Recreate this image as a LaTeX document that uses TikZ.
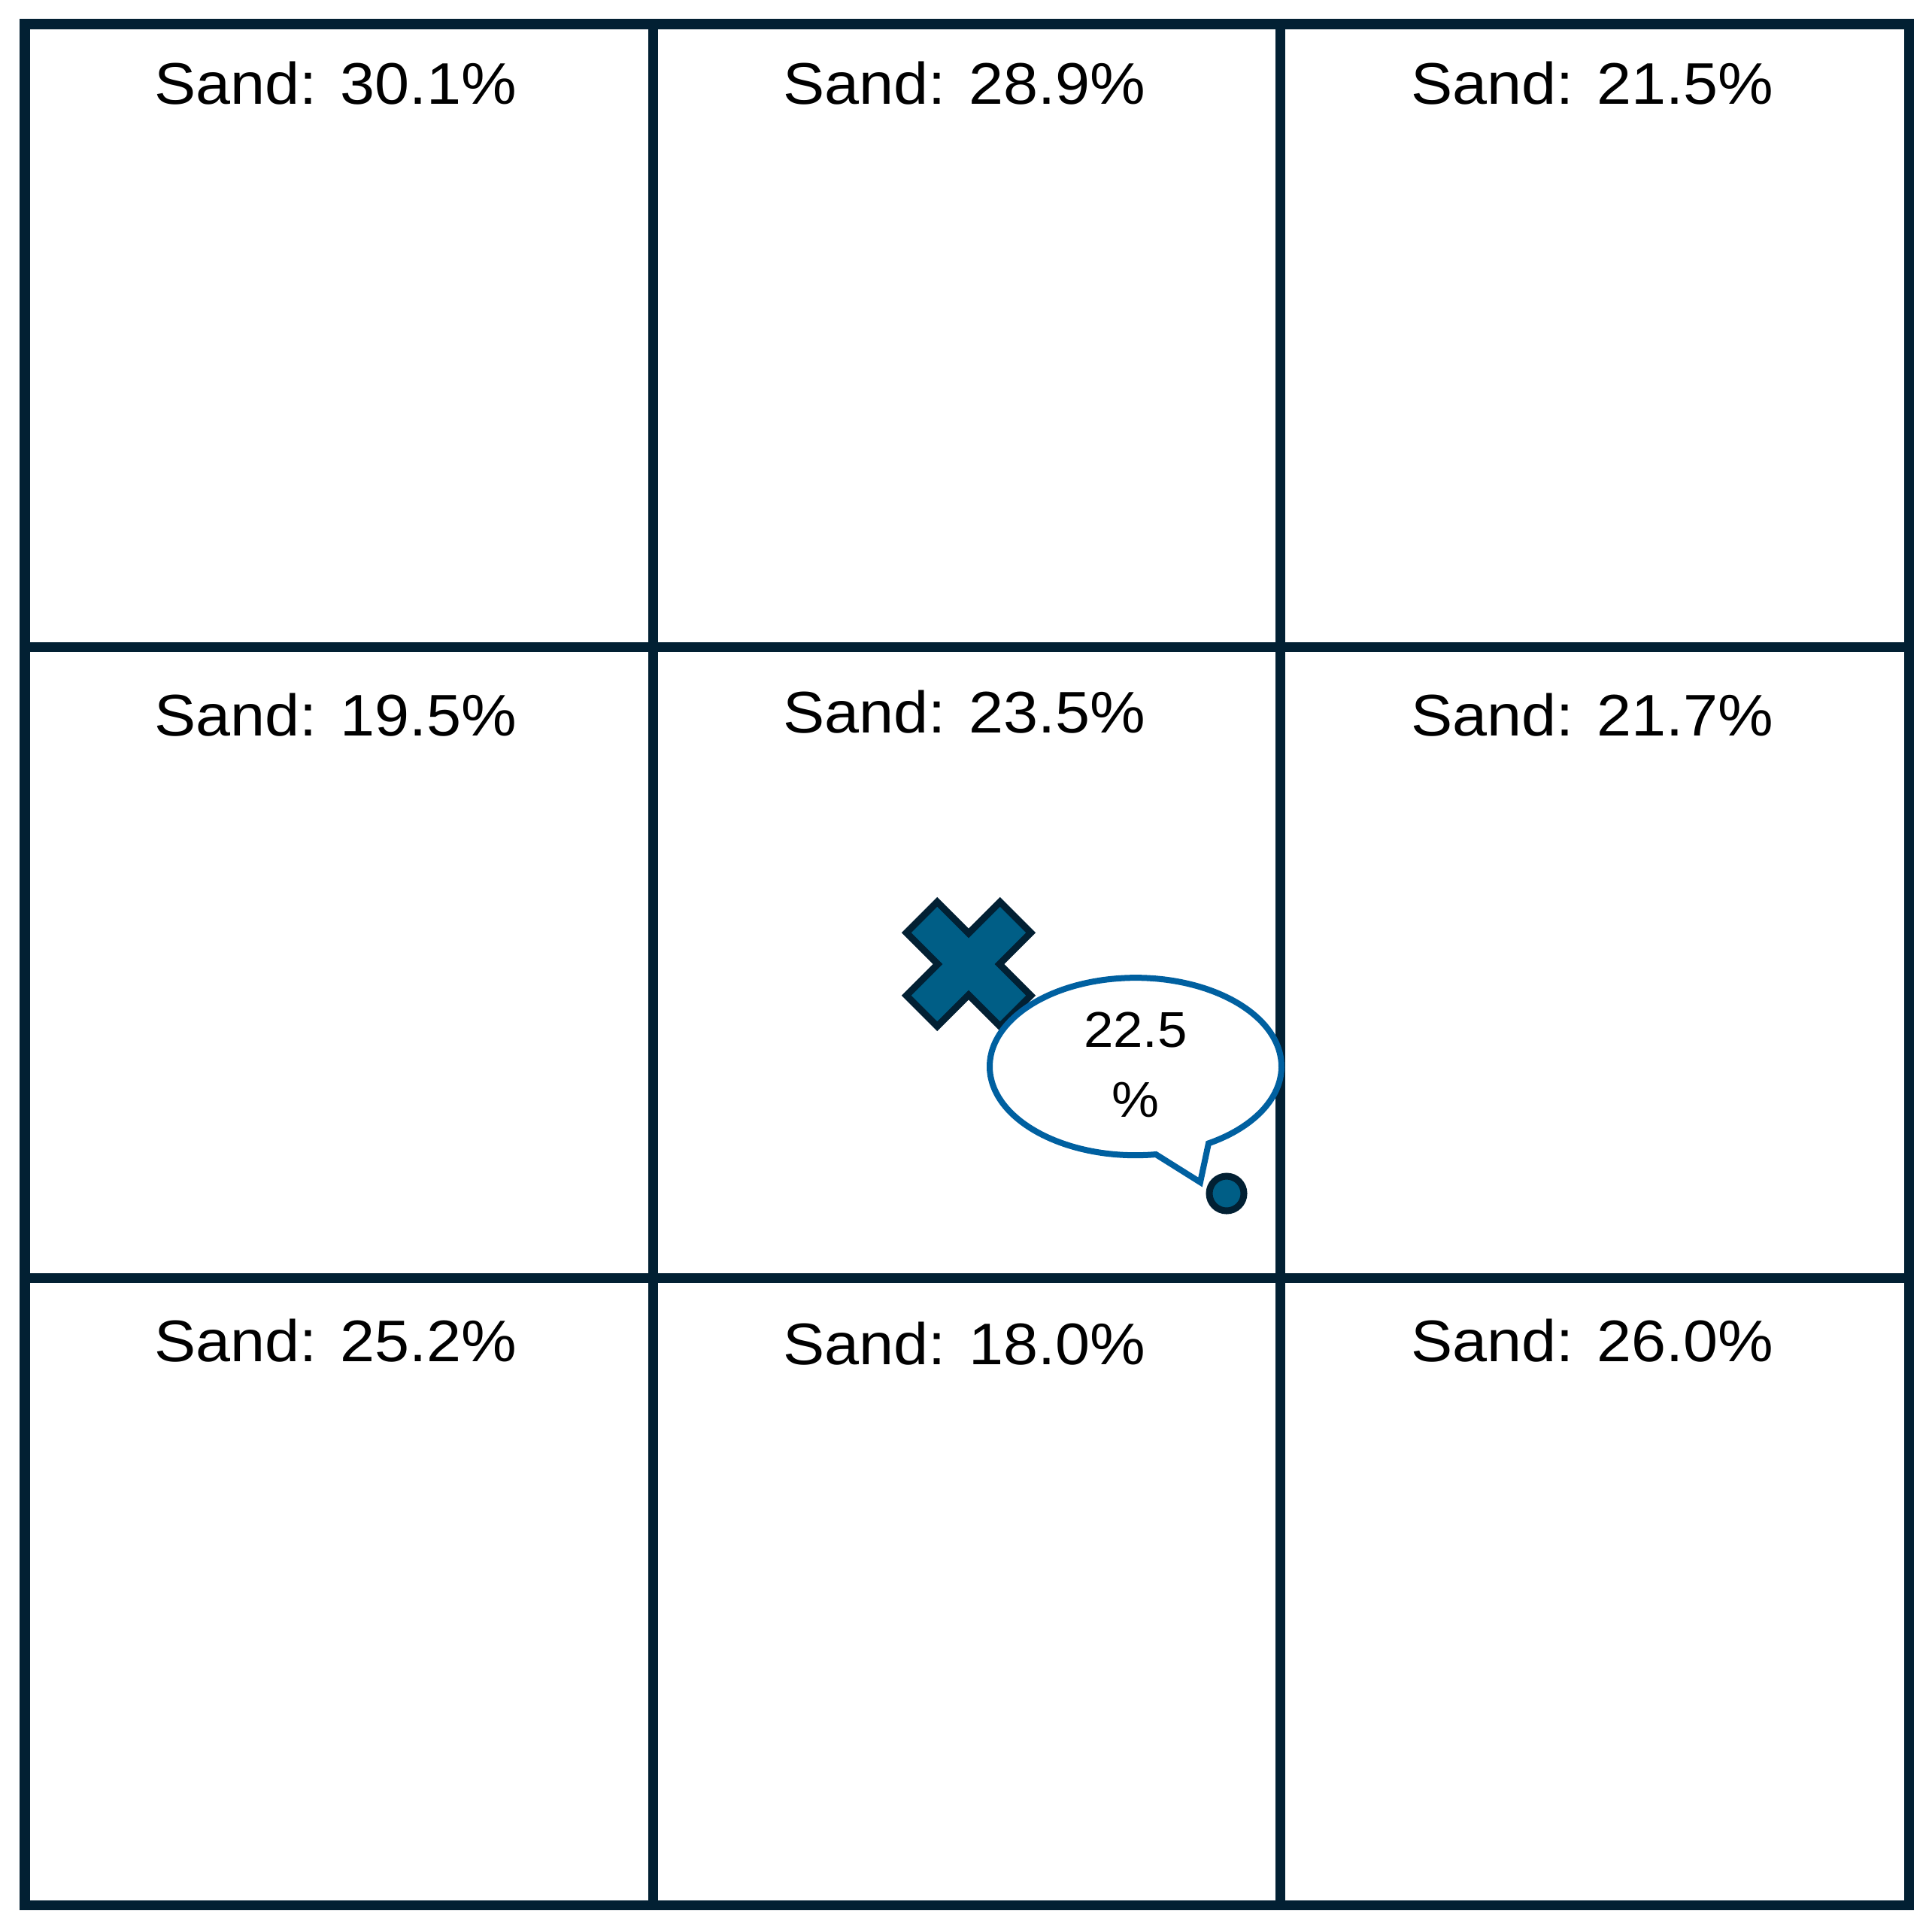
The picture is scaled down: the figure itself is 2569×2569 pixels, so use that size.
\documentclass[tikz,border=0pt]{standalone}
\usepackage{fontspec}
\setmainfont{Liberation Sans}[FakeStretch=1.06]
\usepackage{xcolor}
\usepackage{tikz}
\usetikzlibrary{positioning}
\definecolor{gridnavy}{RGB}{2,32,51}
\definecolor{markteal}{RGB}{0,94,134}
\definecolor{bubbleblue}{RGB}{0,96,160}

\begin{document}
\begin{tikzpicture}[x=0.01cm, y=-0.01cm,
      gridline/.style={draw=gridnavy, line width=0.13cm, line join=miter},
      sandlbl/.style={anchor=base, inner sep=0pt, text=black,
                  font=\fontsize{22.2}{26}\selectfont},
      xmark/.style={draw=gridnavy, fill=markteal, line width=0.09cm, line join=miter},
      bubble/.style={draw=bubbleblue, fill=white, line width=0.08cm, line join=miter},
      bubbletxt/.style={align=center, inner sep=0pt, text=black,
                  font=\fontsize{19}{26.5}\selectfont},
      dotmark/.style={circle, draw=gridnavy, fill=markteal, line width=0.09cm,
                  minimum size=0.46cm, inner sep=0pt}
    ]
    \useasboundingbox[fill=white] (0,0) rectangle (2569,2569);

    % grid of cells
    \draw[gridline] (33,32) rectangle (2538,2533);
    \draw[gridline] (868,32) -- (868,2533);
    \draw[gridline] (1702,32) -- (1702,2533);
    \draw[gridline] (33,860) -- (2538,860);
    \draw[gridline] (33,1699) -- (2538,1699);

    % sand contents
    \node[sandlbl] (sandA) at (446,138)  {Sand: 30.1\%};
    \node[sandlbl] (sandB) at (1282,138) {Sand: 28.9\%};
    \node[sandlbl] (sandC) at (2117,138) {Sand: 21.5\%};
    \node[sandlbl] (sandD) at (446,978)  {Sand: 19.5\%};
    \node[sandlbl] (sandE) at (1282,974) {Sand: 23.5\%};
    \node[sandlbl] (sandF) at (2117,978) {Sand: 21.7\%};
    \node[sandlbl] (sandG) at (446,1810)  {Sand: 25.2\%};
    \node[sandlbl] (sandH) at (1282,1814) {Sand: 18.0\%};
    \node[sandlbl] (sandI) at (2117,1810) {Sand: 26.0\%};

    % sample point
    \coordinate (site) at (1288,1282);
    \draw[xmark, shift={(site)}, rotate=45]
      (29,29) -- (29,88) -- (-29,88) -- (-29,29) -- (-88,29) -- (-88,-29)
      -- (-29,-29) -- (-29,-88) -- (29,-88) -- (29,-29) -- (88,-29) -- (88,29) -- cycle;

    % callout
    \draw[bubble] (1537,1535) arc[start angle=82, end angle=420, x radius=194, y radius=118]
      -- (1596,1572) -- cycle;
    \node[bubbletxt] (estimate) at (1510,1416) {22.5\\\%};

    \node[dotmark] (probe) at (1631,1587) {};
  \end{tikzpicture}
\end{document}
